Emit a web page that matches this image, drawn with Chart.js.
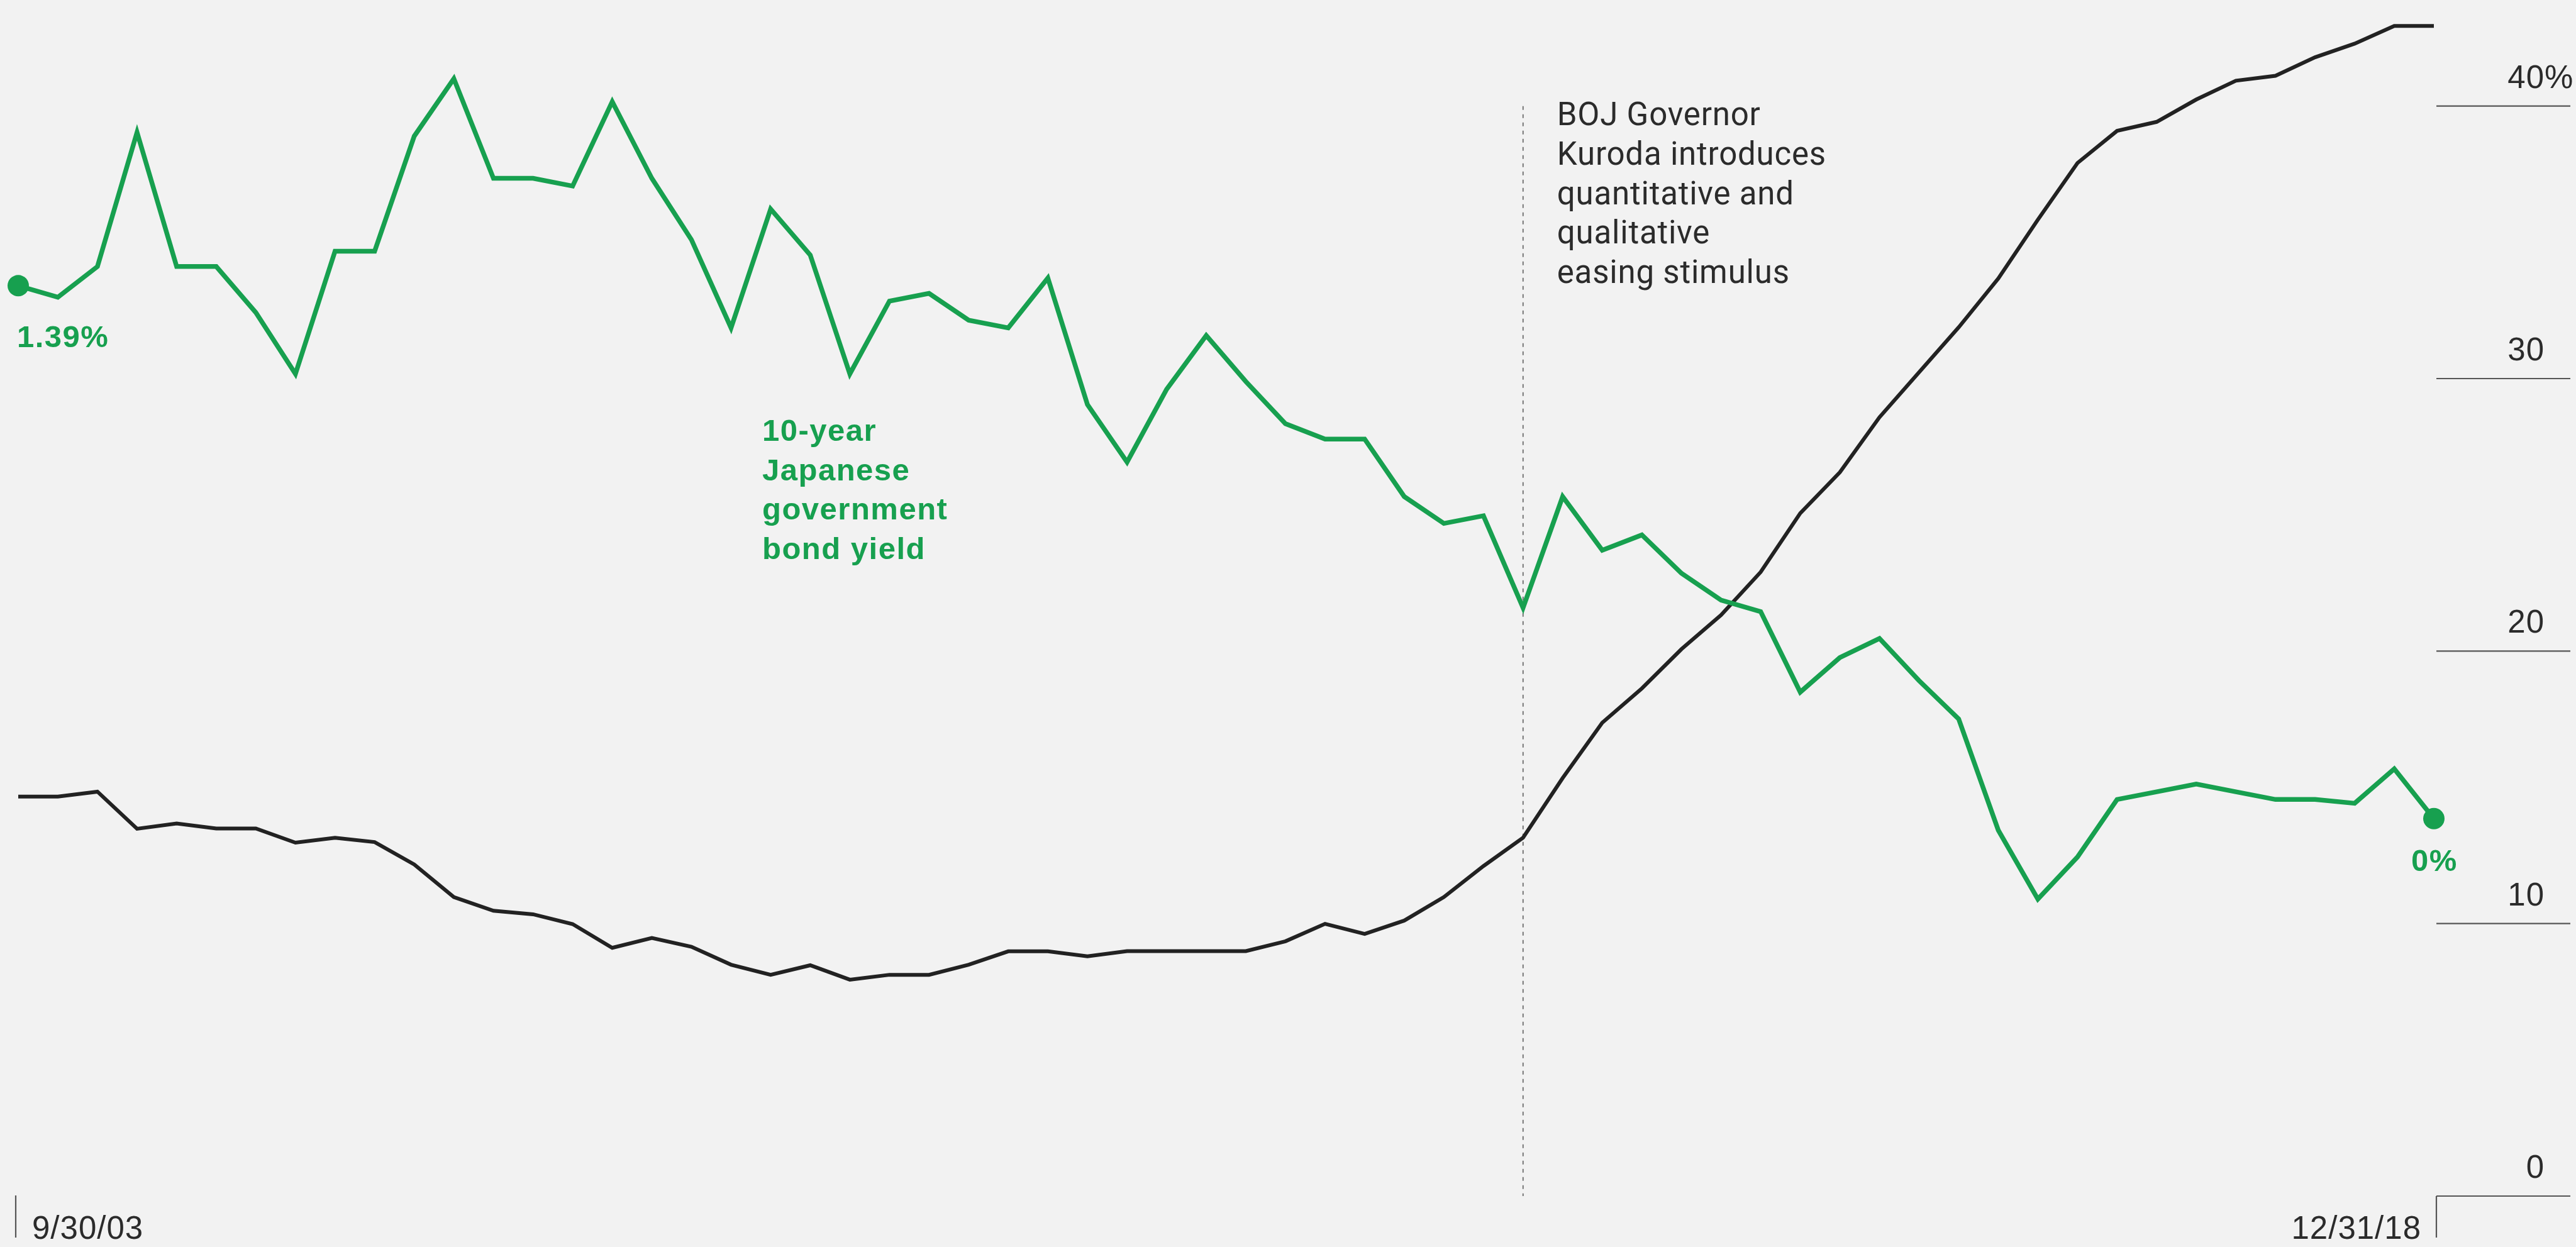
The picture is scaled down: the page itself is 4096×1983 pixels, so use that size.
<!DOCTYPE html>
<html>
<head>
<meta charset="UTF-8">
<title>BOJ holdings and 10-year JGB yield</title>
<style>
  html, body { margin: 0; padding: 0; background: #f2f2f2; overflow: hidden; }
  canvas { display: block; }
</style>
<script src="https://cdn.jsdelivr.net/npm/chart.js@4.4.1/dist/chart.umd.min.js"></script>
</head>
<body>
<canvas id="chart" width="4096" height="1983"></canvas>
<script>
// quarter ends, 9/30/03 .. 12/31/18
const quarters = [
  '9/30/03','12/31/03',
  '3/31/04','6/30/04','9/30/04','12/31/04',
  '3/31/05','6/30/05','9/30/05','12/31/05',
  '3/31/06','6/30/06','9/30/06','12/31/06',
  '3/31/07','6/30/07','9/30/07','12/31/07',
  '3/31/08','6/30/08','9/30/08','12/31/08',
  '3/31/09','6/30/09','9/30/09','12/31/09',
  '3/31/10','6/30/10','9/30/10','12/31/10',
  '3/31/11','6/30/11','9/30/11','12/31/11',
  '3/31/12','6/30/12','9/30/12','12/31/12',
  '3/31/13','6/30/13','9/30/13','12/31/13',
  '3/31/14','6/30/14','9/30/14','12/31/14',
  '3/31/15','6/30/15','9/30/15','12/31/15',
  '3/31/16','6/30/16','9/30/16','12/31/16',
  '3/31/17','6/30/17','9/30/17','12/31/17',
  '3/31/18','6/30/18','9/30/18','12/31/18'
];

// black line, right axis (%)
const bojHoldings = [
  14.66, 14.66, 14.84, 13.48, 13.67, 13.49, 13.49, 12.97, 13.15, 12.99,
  12.17, 10.97, 10.47, 10.34, 9.98, 9.11, 9.47, 9.15, 8.49, 8.12,
  8.47, 7.94, 8.12, 8.12, 8.49, 8.98, 8.98, 8.80, 8.99, 8.99,
  8.99, 8.99, 9.35, 9.99, 9.62, 10.11, 10.97, 12.11, 13.15, 15.34,
  17.37, 18.63, 20.07, 21.32, 22.90, 25.06, 26.56, 28.58, 30.23, 31.88,
  33.67, 35.83, 37.91, 39.09, 39.42, 40.24, 40.93, 41.11, 41.79, 42.29,
  42.94, 42.94
];

// green line, 10-year JGB yield (%)
const jgbYield = [
  1.39, 1.36, 1.44, 1.79, 1.44, 1.44, 1.32, 1.16, 1.48, 1.48,
  1.78, 1.93, 1.67, 1.67, 1.65, 1.87, 1.67, 1.51, 1.28, 1.59,
  1.47, 1.16, 1.35, 1.37, 1.30, 1.28, 1.41, 1.08, 0.93, 1.12,
  1.26, 1.14, 1.03, 0.99, 0.99, 0.84, 0.77, 0.79, 0.55, 0.84,
  0.70, 0.74, 0.64, 0.57, 0.54, 0.33, 0.42, 0.47, 0.36, 0.26,
  -0.03, -0.21, -0.10, 0.05, 0.07, 0.09, 0.07, 0.05, 0.05, 0.04,
  0.13, 0.00
];

const rightTicks = [0, 10, 20, 30, 40];
const rightTickLabels = ['0', '10', '20', '30', '40%'];
const startLabel = '1.39%';
const endLabel = '0%';
const seriesLabel = ['10-year', 'Japanese', 'government', 'bond yield'];
const eventIndex = 38; // 3/31/13
const eventLabel = ['BOJ Governor', 'Kuroda introduces', 'quantitative and', 'qualitative', 'easing stimulus'];

const GREEN = '#17a04f';
const INK = '#2b2b2b';
const lastIdx = jgbYield.length - 1;

function txt(ctx, s, x, y, font, color, align, spacing) {
  ctx.save();
  ctx.font = font;
  ctx.fillStyle = color;
  ctx.textAlign = align || 'left';
  ctx.textBaseline = 'alphabetic';
  ctx.letterSpacing = (spacing || 0) + 'px';
  ctx.fillText(s, x, y);
  ctx.restore();
}

const decor = {
  id: 'decor',
  beforeDraw(chart) {
    const c = chart.ctx;
    c.save();
    c.fillStyle = '#f2f2f2';
    c.fillRect(0, 0, chart.width, chart.height);
    c.restore();
  },
  beforeDatasetsDraw(chart) {
    const c = chart.ctx, x = chart.scales.x, y = chart.scales.y, area = chart.chartArea;
    const axisFont = '51px "Liberation Sans", Arial, sans-serif';

    // right-hand ticks and labels
    const tickL = area.right + 4, tickR = chart.width - 9, numRight = 4046;
    c.save();
    c.strokeStyle = '#555';
    c.lineWidth = 2.2;
    rightTicks.forEach((v, i) => {
      const py = y.getPixelForValue(v);
      c.beginPath();
      c.moveTo(tickL, py);
      c.lineTo(tickR, py);
      c.stroke();
      c.font = axisFont;
      c.letterSpacing = '1px';
      const w = c.measureText(String(v)).width;
      txt(c, rightTickLabels[i], numRight - w, py - 29, axisFont, INK, 'left', 1);
    });
    // bottom end ticks
    const y0 = y.getPixelForValue(0);
    c.beginPath();
    c.moveTo(x.getPixelForValue(0) - 4, y0 - 1);
    c.lineTo(x.getPixelForValue(0) - 4, y0 + 66);
    c.moveTo(tickL, y0);
    c.lineTo(tickL, y0 + 66);
    c.stroke();
    c.restore();

    txt(c, quarters[0], x.getPixelForValue(0) + 22, y0 + 68, axisFont, INK, 'left', 1);
    txt(c, quarters[lastIdx], x.getPixelForValue(lastIdx) - 20, y0 + 68, axisFont, INK, 'right', 1);

    // event marker
    const ex = x.getPixelForValue(eventIndex);
    c.save();
    c.strokeStyle = '#6a6a6a';
    c.lineWidth = 1.8;
    c.setLineDash([6, 7]);
    c.beginPath();
    c.moveTo(ex, y.getPixelForValue(40));
    c.lineTo(ex, y0);
    c.stroke();
    c.restore();
    const noteFont = '51px Roboto, "Liberation Sans", sans-serif';
    eventLabel.forEach((s, i) => {
      txt(c, s, ex + 54, 199 + i * 62.8, noteFont, INK, 'left', 0.8);
    });
  },
  afterDatasetsDraw(chart) {
    const c = chart.ctx, x = chart.scales.x, y2 = chart.scales.y2;
    const boldFont = 'bold 49px "Liberation Sans", Arial, sans-serif';
    const sx = x.getPixelForValue(0), sy = y2.getPixelForValue(jgbYield[0]);
    txt(c, startLabel, sx - 2, sy + 98, boldFont, GREEN, 'left', 1.5);
    const exx = x.getPixelForValue(lastIdx), eyy = y2.getPixelForValue(jgbYield[lastIdx]);
    txt(c, endLabel, exx + 1, eyy + 83, boldFont, GREEN, 'center', 1.5);
    seriesLabel.forEach((s, i) => {
      txt(c, s, 1212, 701 + i * 62.5, boldFont, GREEN, 'left', 1.5);
    });
  }
};

new Chart(document.getElementById('chart'), {
  type: 'line',
  data: {
    labels: quarters,
    datasets: [
      {
        label: '10-year Japanese government bond yield',
        data: jgbYield,
        yAxisID: 'y2',
        borderColor: GREEN,
        borderWidth: 7.5,
        tension: 0,
        clip: false,
        pointRadius: ctx => (ctx.dataIndex === 0 || ctx.dataIndex === lastIdx) ? 17 : 0,
        pointBackgroundColor: GREEN,
        pointBorderWidth: 0,
        pointHoverRadius: 0
      },
      {
        label: 'BOJ holdings',
        data: bojHoldings,
        yAxisID: 'y',
        borderColor: '#222',
        borderWidth: 6,
        tension: 0,
        clip: false,
        pointRadius: 0,
        pointHoverRadius: 0
      }
    ]
  },
  options: {
    responsive: false,
    animation: false,
    devicePixelRatio: 1,
    events: [],
    layout: { padding: { left: 29, right: 226, top: 4, bottom: 81 } },
    plugins: { legend: { display: false }, tooltip: { enabled: false } },
    scales: {
      x: { display: false, offset: false },
      y: { display: false, min: 0, max: 43.5 },
      y2: { display: false, min: -0.9844, max: 2.1073 }
    }
  },
  plugins: [decor]
});
</script>
</body>
</html>
